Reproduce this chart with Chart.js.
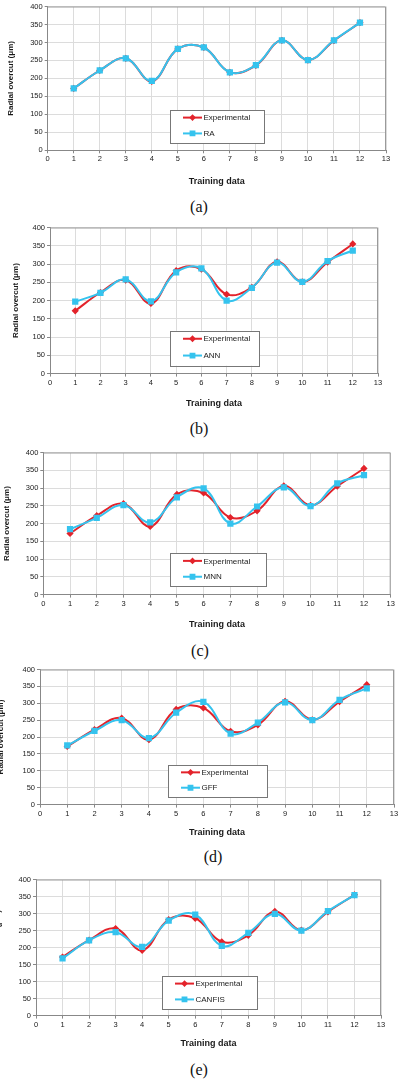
<!DOCTYPE html>
<html>
<head>
<meta charset="utf-8">
<script src="https://cdn.jsdelivr.net/npm/chart.js@4/dist/chart.umd.min.js"></script>
<style>
  body { margin: 0; background: #fff; width: 400px; height: 1092px; position: relative; overflow: hidden; }
  canvas { position: absolute; left: 0; }
  .cap { position: absolute; width: 60px; margin-left: -30px; text-align: center; font: 16px "Liberation Serif", serif; color: #111; line-height: 16px; }
</style>
</head>
<body>
<script>
// ---- data ----
const trainingData = [1, 2, 3, 4, 5, 6, 7, 8, 9, 10, 11, 12];
const experimental = [172, 222, 256, 192, 282, 286, 217, 236, 306, 251, 305, 355];
const ra     = [172, 222, 256, 193, 282, 286, 217, 237, 306, 251, 306, 355];
const ann    = [197, 221, 258, 198, 277, 288, 200, 235, 304, 251, 308, 337];
const mnn    = [184, 216, 252, 203, 274, 299, 200, 248, 302, 249, 313, 336];
const gff    = [175, 218, 250, 197, 272, 304, 210, 243, 303, 250, 310, 344];
const canfis = [168, 221, 245, 202, 279, 297, 205, 243, 299, 250, 307, 354];
const xMin = 0, xMax = 13, xStep = 1;
const yMin = 0, yMax = 400, yStep = 50;
const panelNames = ['(a)', '(b)', '(c)', '(d)', '(e)'];
const modelNames = ['RA', 'ANN', 'MNN', 'GFF', 'CANFIS'];
const modelValues = [ra, ann, mnn, gff, canfis];

// ---- page layout (pixels) ----
const layouts = [
  { top: 6,     bottom: 150.7, left: 47.7, right: 386,   titleY: 182, yTitleX: 11,  capX: 199, capY: 207,  legend: [170, 110, 94, 33] },
  { top: 227.3, bottom: 374,   left: 50,   right: 378,   titleY: 404, yTitleX: 16,  capX: 199, capY: 429,  legend: [170, 331, 89, 35] },
  { top: 451.7, bottom: 594,   left: 43.3, right: 390.7, titleY: 624, yTitleX: 7,   capX: 200, capY: 651,  legend: [170, 553, 96, 33] },
  { top: 669,   bottom: 805,   left: 40,   right: 394,   titleY: 833, yTitleX: 1,   capX: 213, capY: 857,  legend: [168, 765, 99, 32] },
  { top: 879,   bottom: 1016,  left: 36,   right: 381,   titleY: 1044, yTitleX: -2, capX: 199, capY: 1070, legend: [162, 976, 95, 33] }
];

const RED = '#e3232b';
const CYAN = '#35c3ee';
const FONT = '"Liberation Sans", Arial, sans-serif';

// top and right edge of the plot frame
const frame = {
  id: 'frame',
  beforeDatasetsDraw(chart) {
    const { ctx, chartArea: a } = chart;
    ctx.save();
    ctx.strokeStyle = '#9a9a9a';
    ctx.lineWidth = 1;
    ctx.beginPath();
    ctx.moveTo(a.left, a.top + 0.5);
    ctx.lineTo(a.right - 0.5, a.top + 0.5);
    ctx.lineTo(a.right - 0.5, a.bottom);
    ctx.stroke();
    ctx.restore();
  }
};

// boxed legend inside the plot area
const legendBox = {
  id: 'legendBox',
  afterDatasetsDraw(chart, args, opts) {
    const { ctx } = chart;
    const [x, y, w, h] = opts.rect;
    ctx.save();
    ctx.fillStyle = '#fff';
    ctx.fillRect(x, y, w, h);
    ctx.strokeStyle = '#777';
    ctx.lineWidth = 1;
    ctx.strokeRect(Math.round(x) + 0.5, Math.round(y) + 0.5, w, h);
    chart.data.datasets.forEach((ds, i) => {
      const ry = y + h * (i === 0 ? 0.23 : 0.71);
      ctx.strokeStyle = ds.borderColor;
      ctx.lineWidth = 2;
      ctx.beginPath();
      ctx.moveTo(x + 13, ry);
      ctx.lineTo(x + 32, ry);
      ctx.stroke();
      ctx.fillStyle = ds.pointBackgroundColor;
      ctx.strokeStyle = ds.pointBorderColor;
      Chart.helpers.drawPoint(ctx, { pointStyle: ds.pointStyle, radius: ds.pointRadius * 0.9, rotation: 0, borderWidth: 1 }, x + 22.5, ry);
      ctx.fillStyle = '#222';
      ctx.font = '8px ' + FONT;
      ctx.textBaseline = 'middle';
      ctx.fillText(ds.label, x + 33.5, ry + 0.5);
    });
    ctx.restore();
  }
};

function points(values) {
  return trainingData.map((t, i) => ({ x: t, y: values[i] }));
}

layouts.forEach((L, k) => {
  const canvasTop = L.top - 6;
  const canvasBottom = L.titleY + 5.4;
  const canvas = document.createElement('canvas');
  canvas.width = 400;
  canvas.height = Math.round(canvasBottom - canvasTop);
  canvas.style.top = canvasTop + 'px';
  document.body.appendChild(canvas);

  const cap = document.createElement('div');
  cap.className = 'cap';
  cap.textContent = panelNames[k];
  cap.style.left = L.capX + 'px';
  cap.style.top = (L.capY - 8) + 'px';
  document.body.appendChild(cap);

  const xAxisHeight = canvasBottom - L.bottom;

  new Chart(canvas, {
    type: 'line',
    data: {
      datasets: [
        {
          label: 'Experimental',
          data: points(experimental),
          borderColor: RED,
          borderWidth: 2,
          pointStyle: 'rectRot',
          pointRadius: 2.2,
          pointBackgroundColor: RED,
          pointBorderColor: RED,
          tension: 0.4,
          order: 1
        },
        {
          label: modelNames[k],
          data: points(modelValues[k]),
          borderColor: CYAN,
          borderWidth: 2,
          pointStyle: 'rect',
          pointRadius: 3,
          pointBackgroundColor: CYAN,
          pointBorderColor: CYAN,
          tension: 0.4,
          order: 0
        }
      ]
    },
    options: {
      responsive: false,
      animation: false,
      layout: { padding: { top: 6, right: 400 - L.right, left: 0, bottom: 0 } },
      plugins: {
        legend: { display: false },
        tooltip: { enabled: false },
        legendBox: { rect: [L.legend[0], L.legend[1] - canvasTop, L.legend[2], L.legend[3]] }
      },
      scales: {
        x: {
          type: 'linear',
          min: xMin, max: xMax,
          ticks: { stepSize: xStep, color: '#1a1a1a', font: { family: FONT, size: 7.5 }, padding: 1.5, maxRotation: 0 },
          grid: { color: '#dcdcdc', tickColor: '#888', tickLength: 3 },
          border: { color: '#888' },
          title: { display: true, text: 'Training data', color: '#1a1a1a', font: { family: FONT, size: 9, weight: 'bold' }, padding: 0 },
          afterFit(s) { s.height = xAxisHeight; }
        },
        y: {
          min: yMin, max: yMax,
          ticks: { stepSize: yStep, color: '#1a1a1a', font: { family: FONT, size: 7.5 }, padding: 2 },
          grid: { color: '#dcdcdc', tickColor: '#888', tickLength: 3 },
          border: { color: '#888' },
          title: { display: true, text: 'Radial overcut (μm)', color: '#1a1a1a', font: { family: FONT, size: 8, weight: 'bold' }, padding: { top: L.yTitleX - 4.8, bottom: 0 } },
          afterFit(s) { s.width = L.left; }
        }
      }
    },
    plugins: [frame, legendBox]
  });
});
</script>
</body>
</html>
